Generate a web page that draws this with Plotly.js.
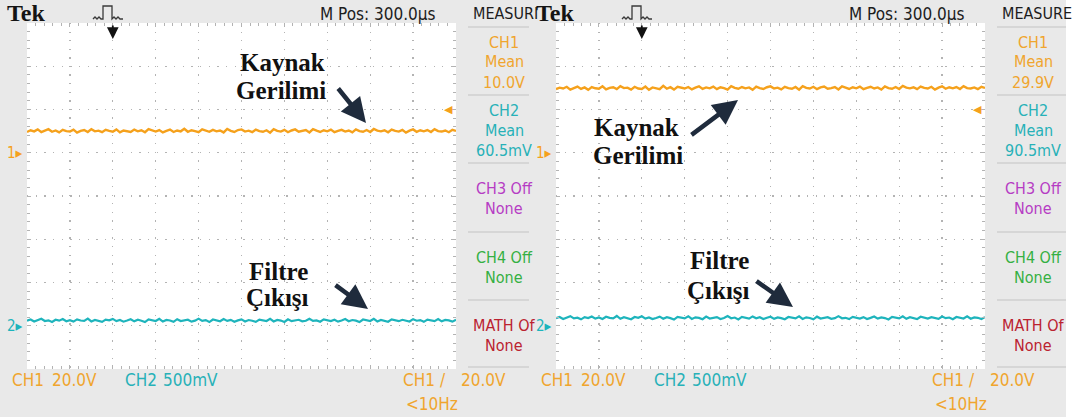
<!DOCTYPE html>
<html><head><meta charset="utf-8">
<script src="https://cdn.plot.ly/plotly-3.0.1.min.js"></script>
<style>html,body{margin:0;padding:0;background:#fff;overflow:hidden}#chart{width:1075px;height:417px}</style>
</head><body><div id="chart"></div>
<script>
// ---------------- data read from the two oscilloscope screens ----------------
// CH1 = source voltage (V), CH2 = filter output (mV); one sample list per screen
const ch1Left = [9.6,10.4,9.9,10.8,9.5,10.2,10.9,9.7,10.3,9.4,10.6,10.0,9.8,10.7,9.3,10.1,10.5,9.6,10.9,9.9,10.2,9.5,10.6,10.1,9.7,10.8,9.4,10.3,10.0,9.6,10.7,9.9,10.4,9.5,10.9,10.2,9.8,10.5,9.4,10.1,10.7,9.6,10.3,9.9,11.1,9.7,10.4,10.0,9.5,10.8,10.2,9.7,10.6,9.9,10.3,9.4,11.0,10.1,9.6,10.5,10.8,9.8,10.2,9.5,10.7,10.0,9.7,10.4,9.3,10.9,10.1,9.8,10.6,9.5,10.3,10.8,9.7,10.0,10.5,9.4,10.9,10.2,9.6,10.4,9.9,10.7,9.5,10.1,10.6,9.8,10.3,9.4,10.8,10.0,9.7,10.5,9.6,11.0,10.2,9.9,10.4,9.5,10.7,10.1,9.8,10.6,9.3,10.2,10.8,9.7,10.4,9.9,10.5,9.6,10.9,10.0,9.8,10.3,9.5,10.6,10.1];
const ch2Left = [58,72,49,66,81,55,63,44,70,59,77,52,65,48,74,61,56,83,50,68,57,45,71,62,79,53,66,47,60,75,51,69,58,42,73,64,55,80,49,67,61,46,76,54,63,70,48,59,82,57,65,43,72,60,52,78,56,68,47,62,74,50,66,58,45,71,63,55,79,49,67,60,44,75,53,64,69,51,58,81,56,62,47,73,65,54,70,48,61,77,52,66,59,43,72,64,55,80,50,68,57,46,74,61,53,69,63,49,76,58,65,45,71,60,54,78,51,67,62,48,70];
const ch1Right = [29.4,30.1,29.7,30.5,29.2,30.0,30.6,29.5,30.2,29.1,30.4,29.8,29.6,30.7,29.3,30.0,30.3,29.4,30.8,29.9,30.1,29.2,30.5,29.7,29.5,30.6,29.1,30.2,29.9,29.4,30.9,29.6,30.3,29.2,30.5,30.0,29.7,30.4,29.3,30.1,30.7,29.5,30.2,29.8,30.6,29.4,30.3,29.9,29.2,30.8,30.0,29.6,30.4,29.8,30.2,29.1,30.6,29.9,29.5,30.3,30.7,29.7,30.1,29.3,30.5,29.9,29.6,30.4,29.2,30.8,30.0,29.7,30.5,29.4,30.2,30.6,29.6,29.9,30.4,29.3,30.7,30.1,29.5,30.3,29.8,30.6,29.4,30.0,30.5,29.7,30.2,29.2,30.7,29.9,29.6,30.4,29.5,30.9,30.1,29.8,30.3,29.4,30.6,30.0,29.7,30.5,29.2,30.1,30.7,29.6,30.3,29.8,30.4,29.5,30.8,29.9,29.7,30.2,29.4,30.5,30.0];
const ch2Right = [88,102,79,96,111,85,93,74,100,89,107,82,95,78,104,91,86,113,80,98,87,75,101,92,109,83,96,77,90,105,81,99,88,72,103,94,85,110,79,97,91,76,106,84,93,100,78,89,112,87,95,73,102,90,82,108,86,98,77,92,104,80,96,88,75,101,93,85,109,79,97,90,74,105,83,94,99,81,88,111,86,92,77,103,95,84,100,78,91,107,82,96,89,73,102,94,85,110,80,98,87,76,104,91,83,99,93,79,106,88,95,75,101,90,84,108,81,97,92,78,100];

const ch1VoltsPerDiv = 20;     // V/div
const ch2MilliVoltsPerDiv = 500; // mV/div
const ch1PositionDiv = 1;      // ground marker offset from centre (div)
const ch2PositionDiv = -3;
const triggerLevel = 20;       // V on CH1
const triggerPositionDiv = 2;  // horizontal trigger position (div from left)
const horizontalDivs = 10, verticalDivs = 8;

const ch1MeanText = ["10.0V", "29.9V"];
const ch2MeanText = ["60.5mV", "90.5mV"];
const headerTexts = ["M Pos: 300.0\u00b5s", "M Pos: 300.0\u00b5s"];
const measureTitles = ["MEASURI", "MEASURE"];
const scaleLabels = ["CH1", "20.0V", "CH2", "500mV"];
const triggerLabels = ["CH1", "/", "20.0V", "<10Hz"];
const sourceLabel = ["Kaynak", "Gerilimi"];
const outputLabel = ["Filtre", "\u00c7\u0131k\u0131\u015f\u0131"];

// ---------------- page geometry (pixels) ----------------
const W = 1075, H = 417;
const OFF = 529;              // horizontal offset of the right screen
const PX0 = 27, PX1 = 456, PY0 = 23, PY1 = 369;
const px = p => p / W, py = p => 1 - p / H;

const ORANGE = '#f5a11c', CYAN = '#1eb4bc';
const TXT_OR = '#f0a52e', TXT_CY = '#27b1b8', TXT_MG = '#b63cc4', TXT_GR = '#35b043', TXT_RD = '#bb2230';
const SANS = '"Liberation Sans Narrow","DejaVu Sans Condensed","Liberation Sans",sans-serif';
const SERIF = '"Liberation Serif","DejaVu Serif",serif';

function times(arr) { return arr.map((_, i) => i * horizontalDivs / (arr.length - 1)); }

const traces = [
  {x: times(ch1Left), y: ch1Left, xaxis: 'x', yaxis: 'y', mode: 'lines', line: {color: ORANGE, width: 2.4}, hoverinfo: 'skip'},
  {x: times(ch2Left), y: ch2Left, xaxis: 'x', yaxis: 'y3', mode: 'lines', line: {color: CYAN, width: 2.2}, hoverinfo: 'skip'},
  {x: times(ch1Right), y: ch1Right, xaxis: 'x2', yaxis: 'y2', mode: 'lines', line: {color: ORANGE, width: 2.4}, hoverinfo: 'skip'},
  {x: times(ch2Right), y: ch2Right, xaxis: 'x2', yaxis: 'y4', mode: 'lines', line: {color: CYAN, width: 2.2}, hoverinfo: 'skip'}
];

const GRID = '#b3b3b3';
function xAx(off, anchor) {
  return {domain: [px(PX0 + off), px(PX1 + off)], range: [0, horizontalDivs], anchor: anchor,
    dtick: 1, showgrid: true, gridcolor: GRID, gridwidth: 1.3, griddash: '1.3px,7.28px',
    zeroline: false, showticklabels: false, ticks: 'inside', ticklen: 4, tickcolor: GRID, mirror: 'ticks',
    showline: false, minor: {dtick: 0.2, ticks: 'inside', ticklen: 3, tickcolor: GRID}, fixedrange: true};
}
const ch1Range = [-(verticalDivs / 2 + ch1PositionDiv) * ch1VoltsPerDiv, (verticalDivs / 2 - ch1PositionDiv) * ch1VoltsPerDiv];
const ch2Range = [-(verticalDivs / 2 + ch2PositionDiv) * ch2MilliVoltsPerDiv, (verticalDivs / 2 - ch2PositionDiv) * ch2MilliVoltsPerDiv];
function yAx(anchor) {
  return {domain: [py(PY1), py(PY0)], range: ch1Range, anchor: anchor,
    dtick: ch1VoltsPerDiv, showgrid: true, gridcolor: GRID, gridwidth: 1.3, griddash: '1.3px,7.35px',
    zeroline: false, showticklabels: false, ticks: 'inside', ticklen: 4, tickcolor: GRID, mirror: 'ticks',
    showline: false, minor: {dtick: ch1VoltsPerDiv / 5, ticks: 'inside', ticklen: 3, tickcolor: GRID}, fixedrange: true};
}
function y2Ax(over) {
  return {overlaying: over, range: ch2Range, visible: false, fixedrange: true, anchor: over === 'y' ? 'x' : 'x2'};
}

const shapes = [];
const annotations = [];
function rect(x0, y0, x1, y1, color) {
  shapes.push({type: 'rect', xref: 'paper', yref: 'paper', x0: px(x0), x1: px(x1), y0: py(y1), y1: py(y0),
    fillcolor: color, line: {width: 0}, layer: 'below'});
}
function hline(x0, x1, y, color, w) {
  shapes.push({type: 'line', xref: 'paper', yref: 'paper', x0: px(x0), x1: px(x1), y0: py(y), y1: py(y),
    line: {color: color, width: w}, layer: 'below'});
}
function txt(t, x, y, color, size, family, xanchor, extra) {
  annotations.push(Object.assign({text: t, xref: 'paper', yref: 'paper', x: px(x), y: py(y), showarrow: false,
    xanchor: xanchor || 'center', yanchor: 'middle', font: {color: color, size: size, family: family}}, extra || {}));
}

[0, OFF].forEach((off, k) => {
  const xr = k === 0 ? 'x' : 'x2', yr1 = k === 0 ? 'y' : 'y2', yr2 = k === 0 ? 'y3' : 'y4';
  // screen background
  rect(off, 0, 537 + off, 417, '#e9e9e9');
  rect(PX0 + off, PY0, PX1 + off, PY1, '#ffffff');
  // measurement panel separators
  [27, 95, 163, 232, 300, 367].forEach(y => hline(468 + off, 537 + off, y, '#cfcfcf', 1.6));
  // header
  txt('Tek', 26 + off, 13, '#141414', 24, SERIF, 'center', {font: {color: '#141414', size: 24, family: SERIF, weight: 'bold'}});
  txt(headerTexts[k], 318 + off, 14, '#1c1c1c', 17, SANS, 'left');
  txt(measureTitles[k], 471 + off, 13, '#1c1c1c', 16, SANS, 'left');
  // pulse icon
  const a = 93 + off;
  shapes.push({type: 'path', xref: 'paper', yref: 'paper', layer: 'above',
    path: `M${px(a)},${py(19)} L${px(a + 2)},${py(17)} L${px(a + 4)},${py(19)} L${px(a + 6)},${py(17)} L${px(a + 8)},${py(19)} L${px(a + 10)},${py(19)} L${px(a + 10)},${py(6)} L${px(a + 19)},${py(6)} L${px(a + 19)},${py(19)} L${px(a + 21)},${py(17)} L${px(a + 23)},${py(19)} L${px(a + 25)},${py(17)} L${px(a + 27)},${py(19)} L${px(a + 30)},${py(19)}`,
    line: {color: '#3a3a3a', width: 1.3}});
  // trigger position arrow
  annotations.push({xref: xr, yref: 'paper', x: triggerPositionDiv, y: py(39), text: '', showarrow: true,
    ax: 0, ay: -15, arrowhead: 2, arrowsize: 1.3, arrowwidth: 1.8, arrowcolor: '#111'});
  // ground markers and trigger level marker
  annotations.push({xref: 'paper', yref: yr1, x: px(25 + off), y: 0, text: '1\u25b8', showarrow: false,
    xanchor: 'right', yanchor: 'middle', font: {color: ORANGE, size: 15, family: SANS}});
  annotations.push({xref: 'paper', yref: yr2, x: px(25 + off), y: 0, text: '2\u25b8', showarrow: false,
    xanchor: 'right', yanchor: 'middle', font: {color: CYAN, size: 15, family: SANS}});
  annotations.push({xref: 'paper', yref: yr1, x: px(455 + off), y: triggerLevel, text: '\u25c0', showarrow: false,
    xanchor: 'right', yanchor: 'middle', font: {color: ORANGE, size: 11, family: 'DejaVu Sans'}});
  // measurement panel
  const cx = 504 + off;
  txt('CH1', cx, 42, TXT_OR, 16, SANS); txt('Mean', cx, 62, TXT_OR, 16, SANS); txt(ch1MeanText[k], cx, 82, TXT_OR, 16, SANS);
  txt('CH2', cx, 110, TXT_CY, 16, SANS); txt('Mean', cx, 130, TXT_CY, 16, SANS); txt(ch2MeanText[k], cx, 150, TXT_CY, 16, SANS);
  txt('CH3 Off', cx, 188, TXT_MG, 16, SANS); txt('None', cx, 208, TXT_MG, 16, SANS);
  txt('CH4 Off', cx, 257, TXT_GR, 16, SANS); txt('None', cx, 277, TXT_GR, 16, SANS);
  txt('MATH Of', cx, 325, TXT_RD, 16, SANS); txt('None', cx, 345, TXT_RD, 16, SANS);
  // bottom status line
  txt(scaleLabels[0], 10 + off, 380, TXT_OR, 17, SANS, 'left');
  txt(scaleLabels[1], 50 + off, 380, TXT_OR, 17, SANS, 'left');
  txt(scaleLabels[2], 123 + off, 380, TXT_CY, 17, SANS, 'left');
  txt(scaleLabels[3], 161 + off, 380, TXT_CY, 17, SANS, 'left');
  txt(triggerLabels[0], 401 + off, 380, TXT_OR, 17, SANS, 'left');
  txt(triggerLabels[1], 438 + off, 380, TXT_OR, 17, SANS, 'left');
  txt(triggerLabels[2], 459 + off, 380, TXT_OR, 17, SANS, 'left');
  txt(triggerLabels[3], 404 + off, 404, TXT_OR, 17, SANS, 'left');
});

// callout labels
const LBL = {color: '#111111', size: 25, family: SERIF, weight: 'bold'};
function label(t, x, y) { annotations.push({text: t, xref: 'paper', yref: 'paper', x: px(x), y: py(y), showarrow: false, xanchor: 'center', yanchor: 'middle', font: LBL}); }
function arrow(x0, y0, x1, y1) {
  annotations.push({text: '', xref: 'paper', yref: 'paper', x: px(x1), y: py(y1), ax: x0 - x1, ay: y0 - y1,
    showarrow: true, arrowhead: 2, arrowsize: 1.1, arrowwidth: 4.5, arrowcolor: '#1f2b3c'});
}
label(sourceLabel[0], 282, 63); label(sourceLabel[1], 281, 90);
arrow(337, 87, 366, 123);
label(sourceLabel[0], 636, 128); label(sourceLabel[1], 638, 155);
arrow(690, 136, 738, 100);
label(outputLabel[0], 278, 271); label(outputLabel[1], 277, 297);
arrow(334, 284, 368, 309);
label(outputLabel[0], 719, 260); label(outputLabel[1], 718, 290);
arrow(755, 280, 793, 307);

const layout = {
  width: W, height: H, margin: {l: 0, r: 0, t: 0, b: 0}, showlegend: false,
  paper_bgcolor: '#ffffff', plot_bgcolor: 'rgba(0,0,0,0)',
  xaxis: xAx(0, 'y'), xaxis2: xAx(OFF, 'y2'),
  yaxis: yAx('x'), yaxis2: yAx('x2'),
  yaxis3: y2Ax('y'), yaxis4: y2Ax('y2'),
  shapes: shapes, annotations: annotations
};
Plotly.newPlot('chart', traces, layout, {staticPlot: true, displayModeBar: false});
</script></body></html>
